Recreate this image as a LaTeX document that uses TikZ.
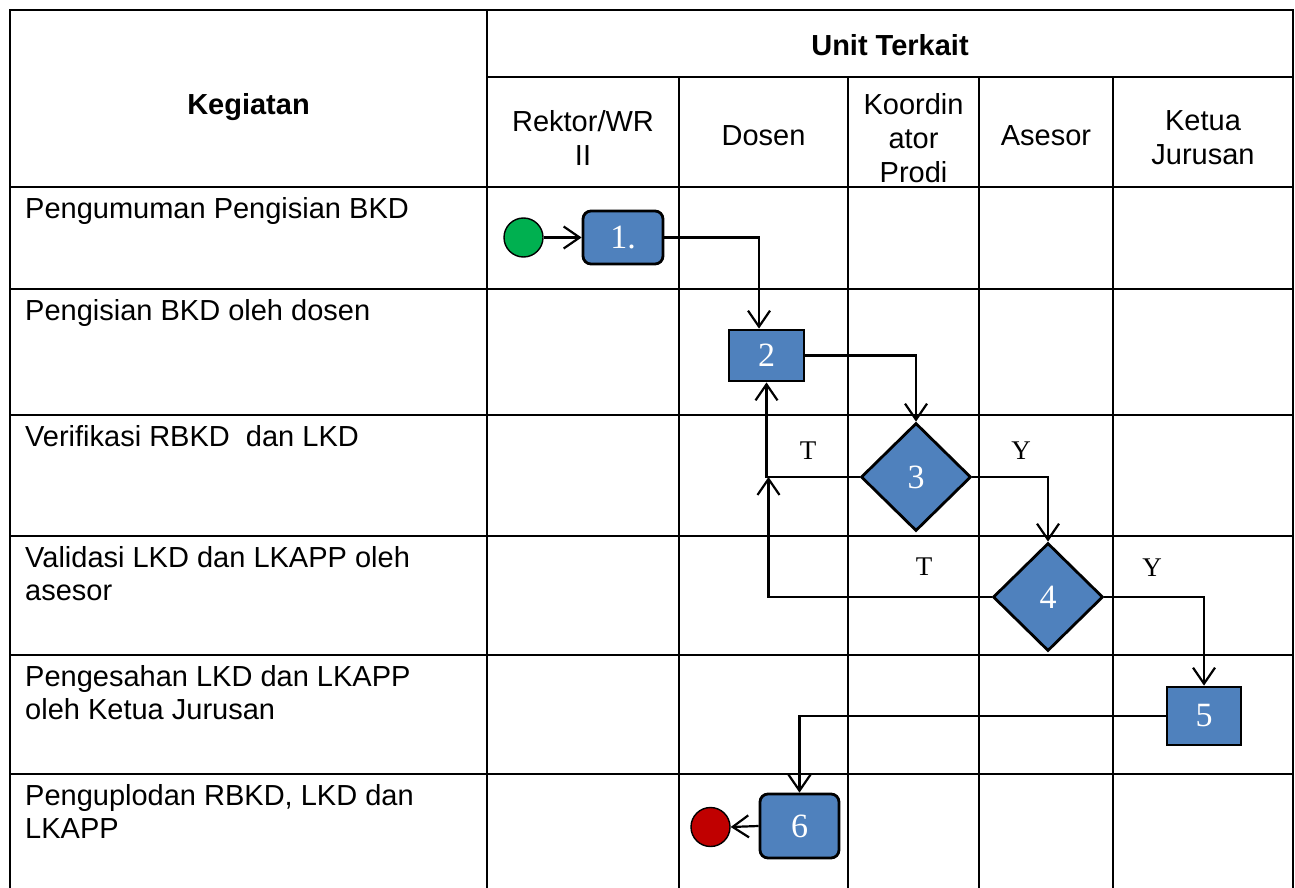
\documentclass[tikz,border=0pt]{standalone}
\usepackage{fontspec}
\setmainfont{Liberation Sans}
\newfontfamily\numfont{Liberation Serif}
\usetikzlibrary{shapes.geometric,arrows.meta}
\definecolor{boxblue}{HTML}{4F81BD}
\definecolor{startgreen}{HTML}{00B050}
\definecolor{endred}{HTML}{C00000}
\tikzset{
  gridline/.style={line width=2.8pt},
  conn/.style={line width=2.2pt, -{Straight Barb[length=16pt,width=22pt]}},
  flowbox/.style={draw=black, line width=2.8pt, fill=boxblue, text=white,
    font=\numfont\fontsize{34}{34}\selectfont, inner sep=0pt},
  flowdia/.style={flowbox, diamond},
  terminal/.style={circle, draw=black, line width=1.4pt, minimum size=39pt, inner sep=0pt},
  rowlabel/.style={anchor=north west, inner sep=0pt, align=left,
    font=\fontsize{29}{33}\selectfont},
  headlabel/.style={inner sep=0pt, align=center, font=\fontsize{29}{34}\selectfont},
  branch/.style={inner sep=0pt, font=\numfont\fontsize{27}{27}\selectfont}
}
\begin{document}
\begin{tikzpicture}[x=1pt,y=-1pt]
\useasboundingbox (0,0) rectangle (1295,888);
% table
\draw[gridline] (10,888) -- (10,10) -- (1293,10) -- (1293,888);
\draw[gridline] (487,10) -- (487,888);
\draw[gridline] (487,77) -- (1293,77);
\foreach \cx in {679,848,979,1113} \draw[gridline] (\cx,77) -- (\cx,888);
\foreach \ry in {187,289,415,536,655,774} \draw[gridline] (10,\ry) -- (1293,\ry);
% headers
\node[headlabel, font=\bfseries\fontsize{29}{34}\selectfont, anchor=base] (hkeg) at (248.5,114) {Kegiatan};
\node[headlabel, font=\bfseries\fontsize{29}{34}\selectfont, anchor=base] (hunit) at (890,56) {Unit Terkait};
\node[headlabel] (hrek) at (583,138) {Rektor/WR\\II};
\node[headlabel, anchor=base] (hdos) at (763.5,146) {Dosen};
\node[headlabel] (hkoo) at (913.5,138) {Koordin\\ator\\Prodi};
\node[headlabel, anchor=base] (hase) at (1046,146) {Asesor};
\node[headlabel] (hket) at (1203,138) {Ketua\\Jurusan};
% row labels
\node[rowlabel] (r1) at (25,197) {Pengumuman Pengisian BKD};
\node[rowlabel] (r2) at (25,299) {Pengisian BKD oleh dosen};
\node[rowlabel] (r3) at (25,425) {Verifikasi RBKD\ \ dan LKD};
\node[rowlabel] (r4) at (25,546) {Validasi LKD dan LKAPP oleh\\asesor};
\node[rowlabel] (r5) at (25,665) {Pengesahan LKD dan LKAPP\\oleh Ketua Jurusan};
\node[rowlabel] (r6) at (25,784) {Penguplodan RBKD, LKD dan\\LKAPP};
% flow shapes
\node[terminal, fill=startgreen] (start) at (523.5,237.5) {};
\node[flowbox, rounded corners=8pt, minimum width=80pt, minimum height=53pt] (b1) at (623,237.5) {1.};
\node[flowbox, minimum width=75pt, minimum height=51pt] (b2) at (766.5,355.5) {2};
\node[flowdia, minimum width=110pt, minimum height=108pt] (d3) at (916,477) {3};
\node[flowdia, minimum width=110pt, minimum height=108pt] (d4) at (1048,597) {4};
\node[flowbox, minimum width=74pt, minimum height=58pt] (b5) at (1204,716) {5};
\node[flowbox, rounded corners=8pt, minimum width=79pt, minimum height=64pt] (b6) at (799.5,826) {6};
\node[terminal, fill=endred] (stop) at (710.5,827) {};
% branch labels
\node[branch] (t1) at (808,451) {T};
\node[branch] (y1) at (1021,451) {Y};
\node[branch] (t2) at (924,567) {T};
\node[branch] (y2) at (1152,568) {Y};
% connectors
\coordinate (b2in) at ([xshift=-7.5pt]b2.north);
\coordinate (jn) at (b2.south |- d3.west);
\draw[conn] (start) -- (b1);
\draw[conn] (b1.east) -| (b2in);
\draw[conn] (b2.east) -| (d3.north);
\draw[conn] (d3.west) -| (b2.south);
\draw[conn] (d3.east) -| (d4.north);
\draw[conn] (d4.west) -| ([xshift=2pt]jn);
\draw[conn] (d4.east) -| (b5.north);
\draw[conn] (b5.west) -| (b6.north);
\draw[conn] (b6.west) -- (stop.east);
\end{tikzpicture}
\end{document}
